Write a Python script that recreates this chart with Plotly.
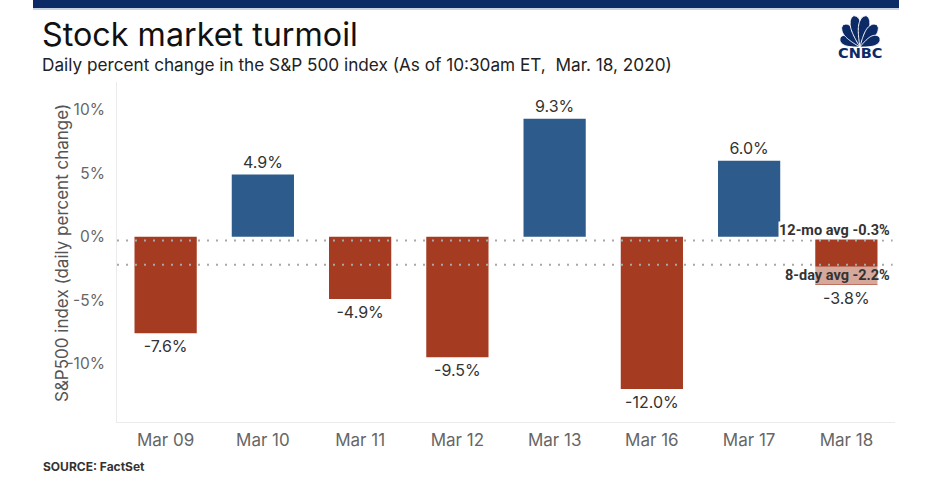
import math
import plotly.graph_objects as go

# ---------------- data ----------------
dates = ["Mar 09", "Mar 10", "Mar 11", "Mar 12", "Mar 13", "Mar 16", "Mar 17", "Mar 18"]
pct_change = [-7.6, 4.9, -4.9, -9.5, 9.3, -12.0, 6.0, -3.8]
avg_12mo = -0.3
avg_8day = -2.2
y_tickvals = [10, 5, 0, -5, -10]
y_ticktext = ["10%", "5%", "0%", "-5%", "-10%"]

# ---------------- layout geometry (pixels) ----------------
W, H = 932, 489
L, R, T, B = 117, 37, 82, 67
PW, PH = W - L - R, H - T - B
FONT = "Inter"


def px(x):
    return (x - L) / PW


def py(y):
    return (H - B - y) / PH


RED = "#A53C22"
BLUE = "#2D5C8C"
NAVY = "#0B2A66"

colors = [BLUE if v >= 0 else RED for v in pct_change]

fig = go.Figure()
fig.add_trace(go.Bar(
    x=dates, y=pct_change,
    marker=dict(color=colors, line=dict(width=0)),
    width=0.64,
    text=[f"{v:.1f}%" for v in pct_change],
    textposition="outside",
    textfont=dict(family=FONT, size=16, color="#333333"),
    cliponaxis=False,
    hoverinfo="skip",
))

shapes = []
# dotted average lines
for val in (avg_12mo, avg_8day):
    shapes.append(dict(type="line", xref="paper", yref="y", x0=0, x1=0.997,
                       y0=val, y1=val, layer="above",
                       line=dict(color="#A8A8A8", width=2, dash="2px,7px")))

# top navy banner
shapes.append(dict(type="rect", xref="paper", yref="paper",
                   x0=px(33), x1=px(899), y0=py(8), y1=py(0),
                   fillcolor=NAVY, line=dict(width=0), layer="above"))
shapes.append(dict(type="rect", xref="paper", yref="paper",
                   x0=px(33), x1=px(899), y0=py(10), y1=py(8),
                   fillcolor="#C9D2E3", line=dict(width=0), layer="above"))

# CNBC peacock feathers
bx, by = 860.0, 47.0
feathers = [(-65, 22, 10), (-37, 28, 11), (-11, 32, 11),
            (11, 32, 11), (37, 28, 11), (65, 22, 10)]
p_exp = math.log(0.5) / math.log(0.68)
for ang, ln, wd in feathers:
    a = math.radians(ang)
    ux, uy = math.sin(a), -math.cos(a)
    nx, ny = -uy, ux
    n = 24
    left, right = [], []
    for i in range(n + 1):
        t = i / n
        hw = (wd / 2) * math.sqrt(max(0.0, math.sin(math.pi * t ** p_exp)))
        cx, cy = bx + ux * ln * t, by + uy * ln * t
        left.append((cx + nx * hw, cy + ny * hw))
        right.append((cx - nx * hw, cy - ny * hw))
    pts = left + right[::-1]
    path = "M " + " L ".join(f"{px(x):.5f},{py(y):.5f}" for x, y in pts) + " Z"
    shapes.append(dict(type="path", xref="paper", yref="paper", path=path,
                       fillcolor=NAVY, line=dict(color="white", width=1),
                       layer="above"))

TITLE_SIZE, SUB_SIZE = 32.3, 17.2
annotations = [
    dict(text="Stock market turmoil", xref="paper", yref="paper",
         x=px(41), y=py(46 - 0.3635 * TITLE_SIZE), xanchor="left", yanchor="middle",
         showarrow=False, borderpad=0,
         font=dict(family=FONT, size=TITLE_SIZE, color="#111111")),
    dict(text="Daily percent change in the S&P 500 index (As of 10:30am ET,  Mar. 18, 2020)",
         xref="paper", yref="paper", x=px(41), y=py(70.7 - 0.3635 * SUB_SIZE),
         xanchor="left", yanchor="middle", showarrow=False, borderpad=0,
         font=dict(family=FONT, size=SUB_SIZE, color="#222222")),
    dict(text="<b>CNBC</b>", xref="paper", yref="paper", x=px(860), y=py(53),
         xanchor="center", yanchor="middle", showarrow=False,
         font=dict(family="DejaVu Sans", size=14.5, color=NAVY)),
    dict(text="S&P500 index (daily percent change)", xref="paper", yref="paper",
         x=px(62), y=py(253), xanchor="center", yanchor="middle", textangle=-90,
         showarrow=False, font=dict(family=FONT, size=17, color="#555555")),
    dict(text="<b>SOURCE: FactSet</b>", xref="paper", yref="paper",
         x=px(41), y=py(466), xanchor="left", yanchor="middle", showarrow=False,
         font=dict(family=FONT, size=12, color="#333333")),
    dict(text=f"<b>12-mo avg {avg_12mo:.1f}%</b>", xref="paper", yref="y",
         x=px(891), y=avg_12mo, xanchor="right", yanchor="bottom", yshift=1,
         showarrow=False, bgcolor="white", borderpad=0,
         font=dict(family="Roboto", size=14.5, color="#333333")),
    dict(text=f"<b>8-day avg {avg_8day:.1f}%</b>", xref="paper", yref="y",
         x=px(891), y=avg_8day, xanchor="right", yanchor="top", yshift=-1,
         showarrow=False, bgcolor="rgba(255,255,255,0.55)", borderpad=0,
         font=dict(family="Roboto", size=14.5, color="#333333")),
]

fig.update_layout(
    width=W, height=H,
    margin=dict(l=L, r=R, t=T, b=B, autoexpand=False),
    paper_bgcolor="white", plot_bgcolor="white",
    showlegend=False, bargap=0.36,
    shapes=shapes, annotations=annotations,
    xaxis=dict(showgrid=False, zeroline=False, showline=True, linecolor="#EBEBEB",
               linewidth=1, ticks="", ticklabelstandoff=3,
               tickfont=dict(family=FONT, size=17, color="#666666"),
               fixedrange=True),
    yaxis=dict(range=[-14.6, 12.2], showgrid=False, zeroline=False, showline=True,
               linecolor="#EBEBEB", linewidth=1, ticks="",
               tickvals=y_tickvals, ticktext=y_ticktext, ticklabelstandoff=8,
               tickfont=dict(family=FONT, size=15.5, color="#666666"),
               fixedrange=True),
)

fig.write_html("out.html", config={"displayModeBar": False})
